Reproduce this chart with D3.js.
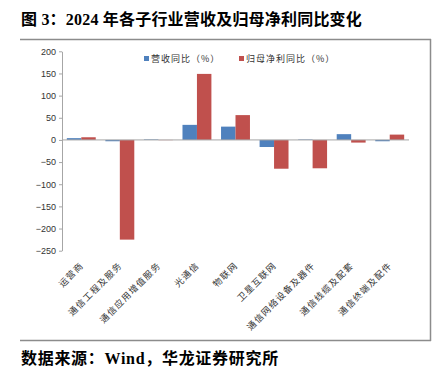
<!DOCTYPE html>
<html>
<head>
<meta charset="utf-8">
<script src="https://cdn.jsdelivr.net/npm/d3@7"></script>
<style>
html,body{margin:0;padding:0;background:#fff;}
svg{display:block;}
</style>
</head>
<body>
<svg id="c" width="433" height="368"></svg>
<script>
const categories = ["运营商","通信工程及服务","通信应用增值服务","光通信","物联网","卫星互联网","通信网络设备及器件","通信线缆及配套","通信终端及配件"];
const revenueYoY = [4, -3, 1.2, 34, 30, -16, 1, 13, -3];
const profitYoY = [6, -225, -0.5, 149, 56, -65, -64, -6, 12];
const seriesNames = ["营收同比（%）","归母净利同比（%）"];
const seriesColors = ["#4F81BD","#C0504D"];
const yTicks = [200,150,100,50,0,-50,-100,-150,-200,-250];

const svg = d3.select("#c");
const cjk = "'Noto Sans CJK SC', sans-serif";

// title
svg.append("text").attr("x",21).attr("y",25)
  .style("font-family","'Liberation Serif', 'Noto Sans CJK SC', serif")
  .style("font-weight","bold").style("font-size","16px").style("letter-spacing","0.2px").attr("fill","#000")
  .text("图 3：2024 年各子行业营收及归母净利同比变化");

// frame
svg.append("line").attr("x1",20).attr("x2",431).attr("y1",39.5).attr("y2",39.5).attr("stroke","#8c8c8c").attr("stroke-width",1.5);
svg.append("line").attr("x1",430.5).attr("x2",430.5).attr("y1",39).attr("y2",341).attr("stroke","#8c8c8c").attr("stroke-width",1.5);
svg.append("line").attr("x1",20).attr("x2",431).attr("y1",340.5).attr("y2",340.5).attr("stroke","#8c8c8c").attr("stroke-width",1.5);

const x0 = 62, x1 = 409;
const y = d3.scaleLinear().domain([-250,200]).range([250.7,51.3]);
const x = d3.scaleBand().domain(categories).range([x0,x1]).paddingInner(0.25).paddingOuter(0.125);
const xs = d3.scaleBand().domain([0,1]).range([0,x.bandwidth()]);

// y axis
const yAxis = d3.axisLeft(y).tickValues(yTicks).tickSize(3).tickSizeOuter(0);
const ga = svg.append("g").attr("transform",`translate(${x0},0)`).call(yAxis);
ga.select(".domain").attr("stroke","#a6a6a6");
ga.selectAll(".tick line").attr("stroke","#a6a6a6");
ga.selectAll(".tick text").attr("fill","#333").attr("x",-6)
  .style("font-family","'Liberation Sans', Arial, sans-serif").style("font-size","9px");

// bars
const data = [revenueYoY, profitYoY];
data.forEach((vals,si)=>{
  svg.append("g").selectAll("rect").data(categories).join("rect")
    .attr("x",(d)=>x(d)+xs(si))
    .attr("width",xs.bandwidth())
    .attr("y",(d,i)=>y(Math.max(0,vals[i])))
    .attr("height",(d,i)=>Math.abs(y(vals[i])-y(0)))
    .attr("fill",seriesColors[si]);
});

// zero line
svg.append("line").attr("x1",x0).attr("x2",x1).attr("y1",y(0)).attr("y2",y(0)).attr("stroke","#a6a6a6");

// x labels
svg.append("g").selectAll("text").data(categories).join("text")
  .attr("transform",d=>`translate(${x(d)+x.bandwidth()/2+3},266) rotate(-45)`)
  .attr("text-anchor","end")
  .style("font-family",cjk).style("font-size","9px").style("letter-spacing","1.2px").attr("fill","#333")
  .text(d=>d);

// legend
const lg = [[144,seriesNames[0]],[239,seriesNames[1]]];
lg.forEach((l,i)=>{
  svg.append("rect").attr("x",l[0]).attr("y",56).attr("width",5).attr("height",5).attr("fill",seriesColors[i]);
  svg.append("text").attr("x",l[0]+7).attr("y",62)
    .style("font-family",cjk).style("font-size","9px").style("letter-spacing","1px").attr("fill","#333").text(l[1]);
});

// source
svg.append("text").attr("x",21).attr("y",364)
  .style("font-family","'Liberation Serif', 'Noto Sans CJK SC', serif")
  .style("font-weight","bold").style("font-size","16px").style("letter-spacing","0.7px").attr("fill","#000")
  .text("数据来源：Wind，华龙证券研究所");
</script>
</body>
</html>
